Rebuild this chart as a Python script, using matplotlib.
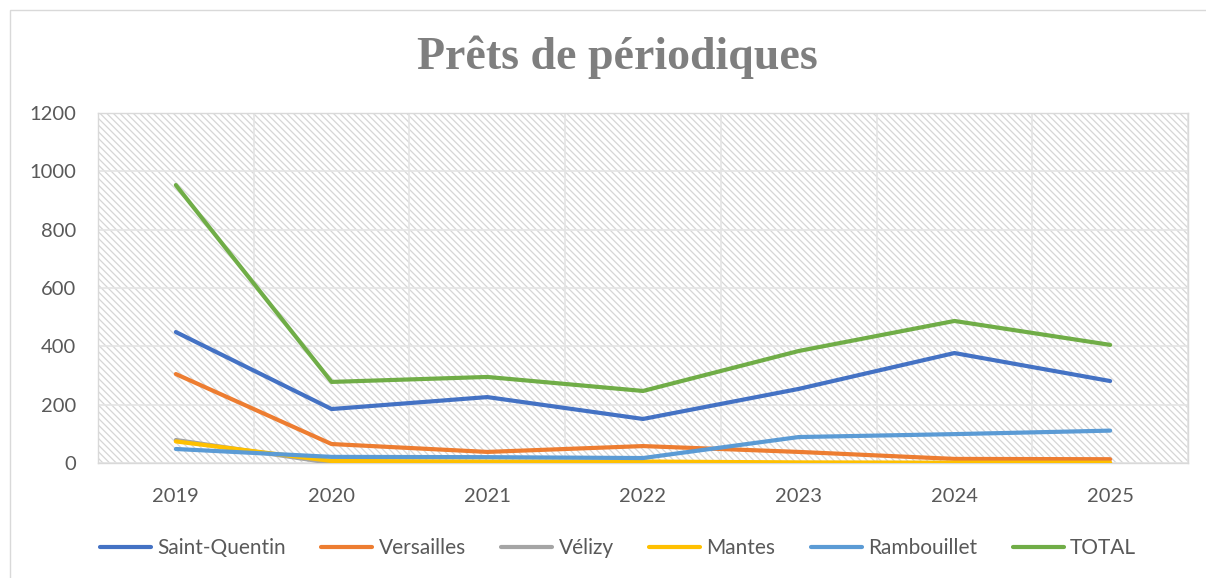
import numpy as np
import matplotlib
matplotlib.use("Agg")
import matplotlib.pyplot as plt
from matplotlib.patches import Rectangle

# data
years = ["2019", "2020", "2021", "2022", "2023", "2024", "2025"]
saint_quentin = [449, 185, 226, 151, 254, 377, 281]
versailles = [305, 65, 38, 58, 38, 14, 13]
velizy = [79, 0, 3, 2, 0, 0, 0]
mantes = [74, 7, 5, 5, 2, 1, 1]
rambouillet = [48, 21, 20, 17, 89, 99, 111]
total = [953, 278, 295, 247, 384, 487, 405]

series = [
    ("Saint-Quentin", saint_quentin, "#4472C4"),
    ("Versailles", versailles, "#ED7D31"),
    ("Vélizy", velizy, "#A5A5A5"),
    ("Mantes", mantes, "#FFC000"),
    ("Rambouillet", rambouillet, "#5B9BD5"),
    ("TOTAL", total, "#70AD47"),
]

plt.rcParams['font.family'] = ['Lato', 'DejaVu Sans']
plt.rcParams['hatch.linewidth'] = 0.9

fig = plt.figure(figsize=(12.06, 5.78), dpi=100)
ax = fig.add_axes([98/1206, 1-463/578, (1188-98)/1206, 350/578])

# outer chart border
fig.patches.append(Rectangle((10/1206, -0.01), 1.0, 1-10/578+0.01,
                             transform=fig.transFigure, fill=False,
                             edgecolor="#d9d9d9", linewidth=1))

# hatched plot area
ax.add_patch(Rectangle((0, 0), 1, 1, transform=ax.transAxes, facecolor="white",
                       edgecolor="#d6d6d6", linewidth=0, hatch="\\" * 5, zorder=0.1))

x = np.arange(len(years))
for name, vals, col in series:
    ax.plot(x, vals, color=col, linewidth=3, label=name, solid_capstyle="round", zorder=3)

ax.set_xlim(-0.5, len(years) - 0.5)
ax.set_ylim(0, 1200)
ax.set_yticks(np.arange(0, 1201, 200))
ax.set_xticks(x)
ax.set_xticklabels(years)
ax.set_xticks(np.arange(-0.5, len(years), 0.5), minor=True)
ax.set_axisbelow(True)
ax.grid(axis="y", color="#e4e4e4", linewidth=1.2)
ax.grid(axis="x", which="minor", color="#e4e4e4", linewidth=1.2)
ax.tick_params(which="both", length=0, colors="#595959", labelsize=14.5)
ax.tick_params(axis="x", pad=18)
ax.tick_params(axis="y", pad=16)
for s in ax.spines.values():
    s.set_color("#d9d9d9")
    s.set_linewidth(1)

fig.text(0.512, 0.901, "Prêts de périodiques", ha="center", va="center",
         fontsize=33, fontweight="bold", color="#7f7f7f",
         family=["Liberation Serif", "DejaVu Serif"])

leg = fig.legend(loc="center", bbox_to_anchor=(0.5124, 0.052), ncol=6, frameon=False,
                 fontsize=15, handlelength=2.45, handletextpad=0.3, columnspacing=1.7)
for t in leg.get_texts():
    t.set_color("#595959")

fig.savefig("out.png", dpi=100)
